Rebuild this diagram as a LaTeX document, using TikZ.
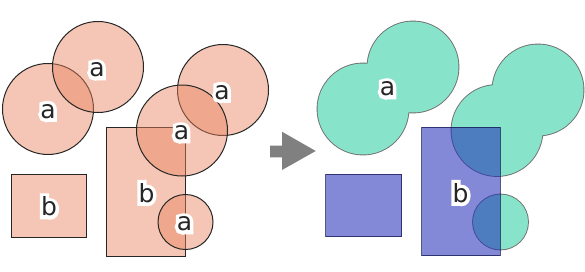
\documentclass[tikz,border=0pt]{standalone}
\usepackage{fontspec}
\setmainfont{DejaVu Sans}
\newfontfamily\halofont[FakeBold=28]{DejaVu Sans}
\usepackage{xcolor}
\definecolor{salmon}{RGB}{233,131,94}
\definecolor{seagreen}{RGB}{135,227,202}
\definecolor{dissblue}{RGB}{31,40,182}
\definecolor{edgegrey}{RGB}{110,110,110}
\definecolor{arrowgrey}{RGB}{128,128,128}
\usepackage{tikz}
\usetikzlibrary{positioning}
\newcommand{\halolabel}[1]{\makebox[0pt]{\color{white}\halofont #1}\makebox[0pt]{#1}}

\begin{document}
\begin{tikzpicture}[x=1pt, y=-1pt,
    inshape/.style={fill=salmon, fill opacity=0.46, draw=black!85, line width=1pt},
    outshape/.style={fill=seagreen},
    outedge/.style={draw=edgegrey, line width=1.8pt},
    blockshape/.style={fill=dissblue, fill opacity=0.55, draw=black!60!dissblue, draw opacity=0.7, line width=1pt},
    lbl/.style={font=\fontsize{25}{25}\selectfont, text=black!85, inner sep=0pt}
  ]
    \useasboundingbox (0,0) rectangle (585,271);
    % input layers
    \path[inshape] (11,174.3) rectangle (86.7,237.7);
    \path[inshape] (106.7,127.7) rectangle (185,256.7);
    \path[inshape] (48,109) circle (45.5);
    \path[inshape] (98,67) circle (45.5);
    \path[inshape] (223,90) circle (45.5);
    \path[inshape] (182,130.5) circle (45.5);
    \path[inshape] (185.5,222) circle (27.5);
    \node[lbl] (a1) at (48,111.5) {\halolabel{a}};
    \node[lbl] (a2) at (97,70) {\halolabel{a}};
    \node[lbl] (a3) at (222,92.5) {\halolabel{a}};
    \node[lbl] (a4) at (181.5,133) {\halolabel{a}};
    \node[lbl] (a5) at (184.5,224) {\halolabel{a}};
    \node[lbl] (b1) at (49,206.5) {\halolabel{b}};
    \node[lbl] (b2) at (146.5,193) {\halolabel{b}};
    % arrow
    \fill[arrowgrey] (270,145.7) -- (282,145.7) -- (282,131.7) -- (315.7,151)
      -- (282,170) -- (282,157.3) -- (270,157.3) -- cycle;
    % dissolved output
    \begin{scope}[xshift=315pt]
      \path[outedge] (48,109) circle (45.5) (98,67) circle (45.5)
        (223,90) circle (45.5) (182,130.5) circle (45.5) (185.5,222) circle (27.5);
      \path[outshape] (48,109) circle (45.5) (98,67) circle (45.5)
        (223,90) circle (45.5) (182,130.5) circle (45.5) (185.5,222) circle (27.5);
      \path[blockshape] (10.7,174) rectangle (86.7,236.7);
      \path[blockshape] (106.7,127) rectangle (185,255.7);
      \node[lbl] (ua) at (72.5,89) {\halolabel{a}};
      \node[lbl] (ub) at (145.5,193) {\halolabel{b}};
    \end{scope}
\end{tikzpicture}
\end{document}
